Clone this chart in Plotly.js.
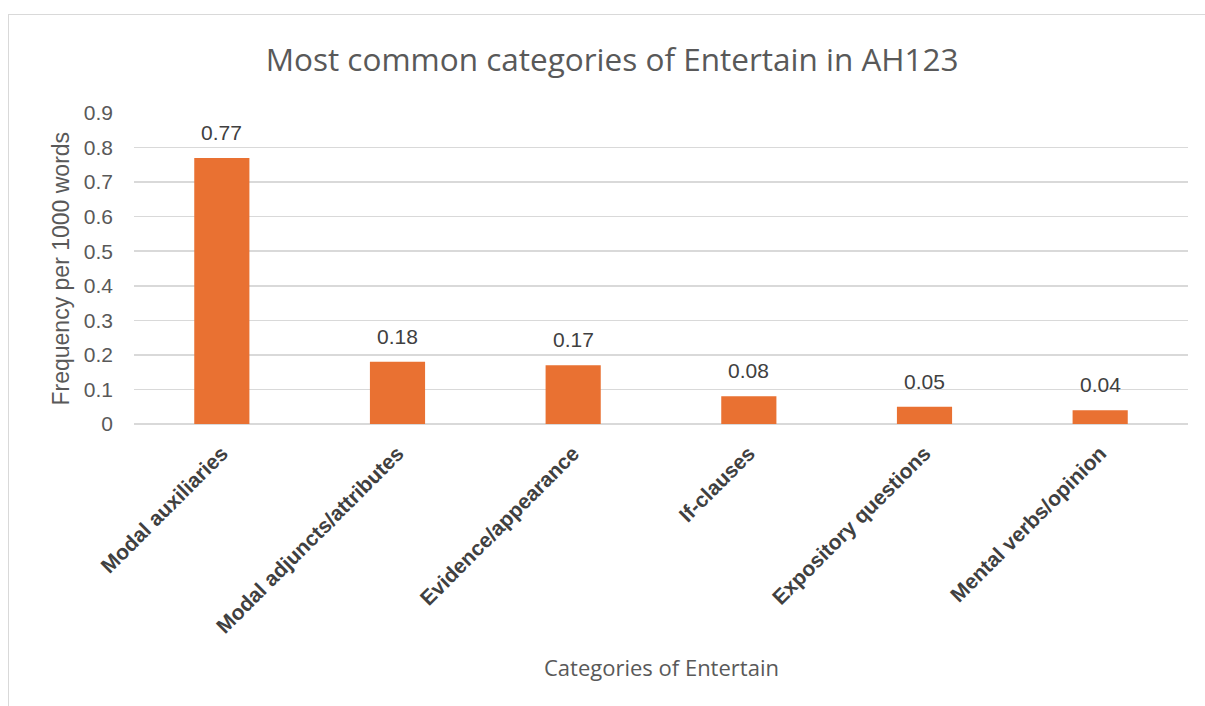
<!DOCTYPE html>
<html>
<head>
<meta charset="utf-8">
<script src="https://cdn.plot.ly/plotly-3.0.1.min.js"></script>
<style>
  html, body { margin: 0; padding: 0; background: #fff; overflow: hidden; }
  #frame { position: absolute; left: 8px; top: 14px; width: 1300px; height: 800px;
           border-top: 1.5px solid #d9d9d9; border-left: 1.5px solid #d9d9d9; box-sizing: border-box; }
  #chart { position: absolute; left: 0; top: 0; width: 1205px; height: 706px; }
</style>
</head>
<body>
<div id="frame"></div>
<div id="chart"></div>
<script>
const categories = ["Modal auxiliaries", "Modal adjuncts/attributes", "Evidence/appearance", "If-clauses", "Expository questions", "Mental verbs/opinion"];
const values = [0.77, 0.18, 0.17, 0.08, 0.05, 0.04];
const valueLabels = ["0.77", "0.18", "0.17", "0.08", "0.05", "0.04"];
const yTicks = [0, 0.1, 0.2, 0.3, 0.4, 0.5, 0.6, 0.7, 0.8, 0.9];
const yTickText = ["0", "0.1", "0.2", "0.3", "0.4", "0.5", "0.6", "0.7", "0.8", "0.9"];
const chartTitle = "Most common categories of Entertain in AH123";
const xTitle = "Categories of Entertain";
const yTitle = "Frequency per 1000 words";

const trace = {
  type: "bar",
  x: categories,
  y: values,
  marker: { color: "#E97132" },
  hoverinfo: "none"
};

const labelAnnotations = categories.map((c, i) => ({
  x: c, y: values[i], xref: "x", yref: "y",
  text: valueLabels[i], showarrow: false,
  yanchor: "bottom", yshift: 12,
  font: { family: "Liberation Sans, Arial, sans-serif", size: 21, color: "#404040" }
}));

const layout = {
  width: 1205, height: 706,
  paper_bgcolor: "rgba(0,0,0,0)",
  plot_bgcolor: "rgba(0,0,0,0)",
  margin: { l: 134, r: 17, t: 113, b: 282 },
  bargap: 0.686,
  showlegend: false,
  title: {
    text: chartTitle,
    font: { family: "Open Sans, sans-serif", size: 31.5, color: "#595959" },
    x: 0.508, xref: "container", xanchor: "center", y: 0.915, yref: "container", yanchor: "middle"
  },
  xaxis: {
    tickangle: -45,
    tickfont: { family: "Liberation Sans, Arial, sans-serif", size: 21, color: "#404040", weight: "bold" },
    showgrid: false,
    showline: false,
    ticks: "",
    zeroline: false,
    ticklabelstandoff: 12,
    automargin: false
  },
  yaxis: {
    range: [0, 0.9],
    tickvals: yTicks,
    ticktext: yTickText,
    tickfont: { family: "Liberation Sans, Arial, sans-serif", size: 21, color: "#595959" },
    gridcolor: "#d9d9d9",
    gridwidth: 1.5,
    zeroline: true,
    zerolinecolor: "#d9d9d9",
    zerolinewidth: 1.5,
    showline: false,
    ticks: "",
    ticklabelstandoff: 20,
    automargin: false
  },
  annotations: labelAnnotations.concat([
    {
      text: xTitle, showarrow: false, xref: "paper", yref: "paper",
      x: 0.5, y: (424 - 667) / 311, xanchor: "center", yanchor: "middle",
      font: { family: "Open Sans, sans-serif", size: 22, color: "#595959" }
    },
    {
      text: yTitle, showarrow: false, xref: "paper", yref: "paper", textangle: -90,
      x: (60 - 134) / 1054, y: 0.5, xanchor: "center", yanchor: "middle",
      font: { family: "Liberation Sans, Arial, sans-serif", size: 23, color: "#595959" }
    }
  ])
};

Plotly.newPlot("chart", [trace], layout, { staticPlot: true, displayModeBar: false });
</script>
</body>
</html>
